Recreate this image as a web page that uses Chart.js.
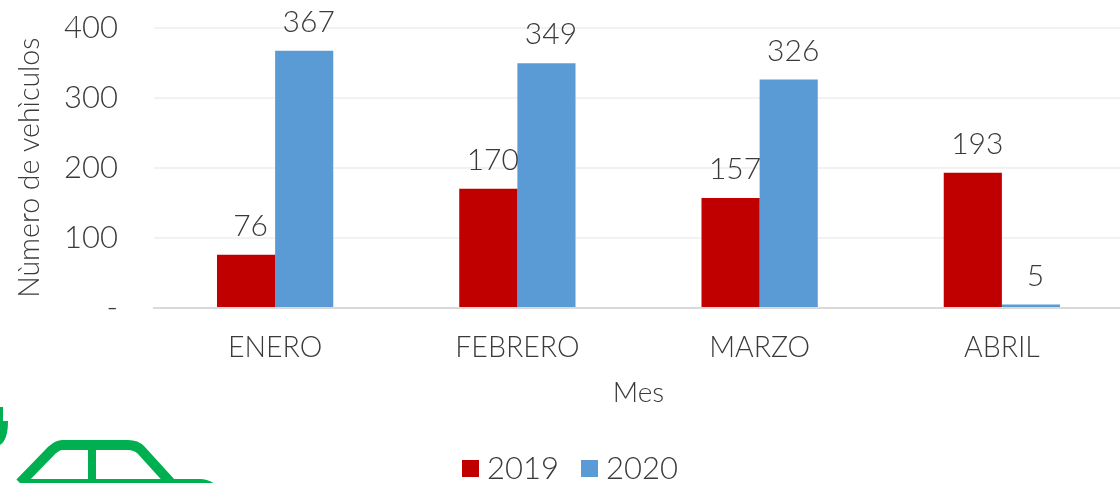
<!DOCTYPE html>
<html><head><meta charset="utf-8">
<style>
html,body{margin:0;padding:0;background:#fff;width:1120px;height:483px;overflow:hidden}
#wrap{position:absolute;left:0;top:0;width:1123px;height:483px}
#car{position:absolute;left:0;top:380px;pointer-events:none}
</style>
<script src="https://cdn.jsdelivr.net/npm/chart.js@4"></script>
</head><body>
<div id="wrap"><canvas id="c" width="1123" height="483"></canvas></div>
<svg id="car" width="260" height="103" viewBox="0 0 260 103">
<g fill="none" stroke="#00b050" stroke-width="10" stroke-linejoin="round">
<path d="M20 103 L52 70 Q58 65 62 65 L128 65 Q136 65 141 70 L172 104 L200 104 Q206 104 212 108"/>
<path d="M20 104 L172 104"/>
<path d="M92 68 L92 104" stroke-width="8"/>
</g>
<path d="M0 27 L3 27 L3 41 L8 41 Q8 60 0 65 Z" fill="#00b050"/>
</svg>
<script>
const categories = ['ENERO','FEBRERO','MARZO','ABRIL'];
const values2019 = [76,170,157,193];
const values2020 = [367,349,326,5];
const yTicks = [0,100,200,300,400];
const FONT = 'Lato';
const TEXT = '#3a3a3a';

const valueLabels = {
  id:'valueLabels',
  afterDatasetsDraw(chart){
    const ctx = chart.ctx;
    ctx.save();
    ctx.font = '300 30px '+FONT;
    ctx.fillStyle = TEXT;
    ctx.textAlign = 'center';
    ctx.textBaseline = 'middle';
    chart.data.datasets.forEach((ds,i)=>{
      chart.getDatasetMeta(i).data.forEach((bar,j)=>{
        ctx.fillText(String(ds.data[j]), bar.x+4.5, bar.y-28.5);
      });
    });
    ctx.restore();
  }
};

const bottomLegend = {
  id:'bottomLegend',
  afterDraw(chart){
    const ctx = chart.ctx;
    ctx.save();
    ctx.font = '300 31px '+FONT;
    ctx.textBaseline = 'middle';
    ctx.textAlign = 'left';
    let x = 462;
    const cy = 468.5;
    chart.data.datasets.forEach(ds=>{
      ctx.fillStyle = ds.backgroundColor;
      ctx.fillRect(x, cy-8.5, 17, 17);
      ctx.fillStyle = TEXT;
      ctx.fillText(ds.label, x+25, cy);
      x += 119;
    });
    ctx.restore();
  }
};

new Chart(document.getElementById('c'),{
  type:'bar',
  data:{labels:categories,datasets:[
    {label:'2019',data:values2019,backgroundColor:'#c00000',categoryPercentage:0.48,barPercentage:1},
    {label:'2020',data:values2020,backgroundColor:'#5b9bd5',categoryPercentage:0.48,barPercentage:1}
  ]},
  options:{
    responsive:false,animation:false,
    layout:{padding:{left:13,right:0,top:27.5,bottom:0}},
    plugins:{
      tooltip:{enabled:false},
      legend:{display:false}
    },
    scales:{
      x:{
        grid:{display:false,drawTicks:false},
        border:{color:'#d9d9d9',width:2},
        ticks:{color:TEXT,font:{family:FONT,size:28.5,weight:'300'},padding:23,maxRotation:0},
        title:{display:true,text:'Mes',color:TEXT,font:{family:FONT,size:28,weight:'300'},padding:{top:10,bottom:73}},
        afterFit(s){s.height=175;}
      },
      y:{
        min:0,max:400,
        afterBuildTicks(s){s.ticks=yTicks.map(v=>({value:v}));},
        grid:{color:'#f2f2f2',lineWidth:2,drawTicks:false},
        border:{display:false},
        ticks:{color:TEXT,font:{family:FONT,size:31,weight:'300'},padding:36,callback:v=>v===0?'-':v},
        title:{display:true,text:'Nùmero de vehìculos',color:TEXT,font:{family:FONT,size:28.5,weight:'300'},padding:{top:0,bottom:0}},
        afterFit(s){s.width=141;s.paddingTop=0;s.paddingBottom=0;}
      }
    }
  },
  plugins:[valueLabels,bottomLegend]
});
</script>
</body></html>
